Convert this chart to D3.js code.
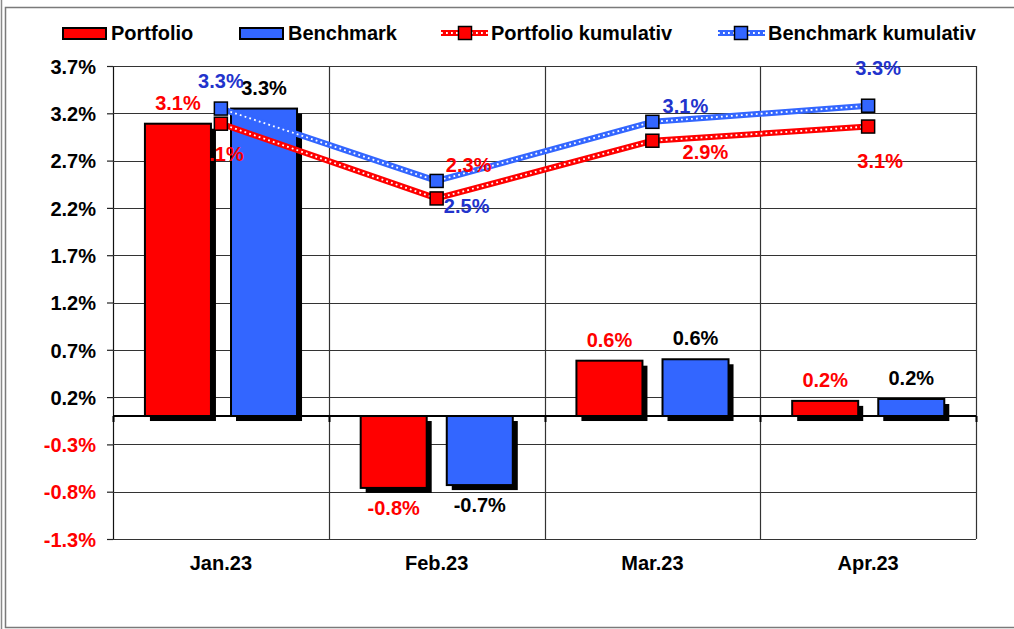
<!DOCTYPE html>
<html>
<head>
<meta charset="utf-8">
<script src="https://cdn.jsdelivr.net/npm/d3@7"></script>
<style>
  html, body { margin: 0; padding: 0; background: #fff; }
  svg { display: block; font-family: Arial, "Liberation Sans", sans-serif; }
</style>
</head>
<body>
<svg id="chart" width="1014" height="629"></svg>
<script>
// ---- data ----
const categories = ["Jan.23", "Feb.23", "Mar.23", "Apr.23"];
const portfolio = [3.09, -0.76, 0.585, 0.16];
const benchmark = [3.25, -0.73, 0.60, 0.18];
const portfolioCum = [3.09, 2.30, 2.91, 3.06];
const benchmarkCum = [3.25, 2.485, 3.11, 3.28];
const yTicks = [-1.3, -0.8, -0.3, 0.2, 0.7, 1.2, 1.7, 2.2, 2.7, 3.2, 3.7];
const seriesNames = ["Portfolio", "Benchmark", "Portfolio kumulativ", "Benchmark kumulativ"];

// ---- styling / layout config ----
const RED = "#ff0000", BLUE = "#3366ff", DARKBLUE = "#2233cc";
const FONT = "bold 20px Arial, 'Liberation Sans', sans-serif";
const pLeft = 113, pRight = 976, pTop = 66, pBottom = 539;
// manual label offsets (Excel-style hand-placed labels) relative to marker
const pCumOff = [[0, 37], [32, -26], [53, 18], [12, 41]];
const bCumOff = [[0, -21], [30, 32], [33, -9], [10, -31]];

const svg = d3.select("#chart");
const fmt = v => v.toFixed(1) + "%";

// outer frame
svg.append("line").attr("x1", 1.5).attr("x2", 1.5).attr("y1", 0).attr("y2", 629)
  .attr("stroke", "#8a8a8a").attr("stroke-width", 1.5);
svg.append("rect").attr("x", 5.5).attr("y", 7.5).attr("width", 1020).attr("height", 620)
  .attr("fill", "none").attr("stroke", "#7a7a7a").attr("stroke-width", 1.5);

const x = d3.scaleBand().domain(categories).range([pLeft, pRight]);
const bw = x.bandwidth();
const x1 = d3.scaleBand().domain(["p", "b"]).range([bw * 0.148, bw * 0.853]).paddingInner(0.233);
const y = d3.scaleLinear().domain([-1.3, 3.7]).range([pBottom, pTop]);

// y ticks
const yAxis = d3.axisLeft(y).tickValues(yTicks).tickSize(6).tickFormat(d => fmt(d));
const gy = svg.append("g").attr("transform", `translate(${pLeft},0)`).call(yAxis);
gy.select(".domain").attr("stroke", "#111").attr("stroke-width", 1.2);
gy.selectAll(".tick line").attr("stroke", "#222").attr("stroke-width", 1.2);
gy.selectAll(".tick text")
  .style("font", FONT)
  .attr("x", -17)
  .attr("dy", "0.36em")
  .attr("fill", d => d < 0 ? RED : "#000");

// horizontal grid
svg.append("g").selectAll("line").data(yTicks).join("line")
  .attr("x1", pLeft).attr("x2", pRight)
  .attr("y1", d => Math.round(y(d)) + 0.5).attr("y2", d => Math.round(y(d)) + 0.5)
  .attr("stroke", "#333").attr("stroke-width", 1.2);

// vertical category separators + right border
const seps = categories.slice(1).map(c => x(c)).concat([pRight]);
svg.append("g").selectAll("line").data(seps).join("line")
  .attr("x1", d => Math.round(d) + 0.5).attr("x2", d => Math.round(d) + 0.5)
  .attr("y1", pTop).attr("y2", pBottom)
  .attr("stroke", "#333").attr("stroke-width", 1.2);

// bars
const barData = [];
categories.forEach((c, i) => {
  barData.push({ c, key: "p", v: portfolio[i], fill: RED, lab: RED });
  barData.push({ c, key: "b", v: benchmark[i], fill: BLUE, lab: "#000" });
});
const gBars = svg.append("g");
gBars.selectAll("rect.shadow").data(barData).join("rect").attr("class", "shadow")
  .attr("x", d => x(d.c) + x1(d.key) + 5)
  .attr("y", d => Math.min(y(d.v), y(0)) + 5)
  .attr("width", x1.bandwidth())
  .attr("height", d => Math.abs(y(d.v) - y(0)))
  .attr("fill", "#000");
gBars.selectAll("rect.bar").data(barData).join("rect").attr("class", "bar")
  .attr("x", d => x(d.c) + x1(d.key))
  .attr("y", d => Math.min(y(d.v), y(0)))
  .attr("width", x1.bandwidth())
  .attr("height", d => Math.abs(y(d.v) - y(0)))
  .attr("fill", d => d.fill).attr("stroke", "#000").attr("stroke-width", 2);

// zero axis line with ticks
const y0 = y(0);
svg.append("line").attr("x1", pLeft).attr("x2", pRight).attr("y1", y0).attr("y2", y0)
  .attr("stroke", "#000").attr("stroke-width", 2);
svg.append("g").selectAll("line").data([pLeft].concat(seps)).join("line")
  .attr("x1", d => Math.round(d) + 0.5).attr("x2", d => Math.round(d) + 0.5)
  .attr("y1", y0).attr("y2", y0 + 6).attr("stroke", "#000").attr("stroke-width", 2);

// bar labels
svg.append("g").selectAll("text").data(barData).join("text")
  .attr("x", d => x(d.c) + x1(d.key) + x1.bandwidth() / 2)
  .attr("y", d => d.v >= 0 ? y(d.v) - 14 : y(d.v) + 27)
  .attr("text-anchor", "middle").style("font", FONT)
  .attr("fill", d => d.lab).text(d => fmt(d.v));

// category labels
svg.append("g").selectAll("text").data(categories).join("text")
  .attr("x", d => x(d) + bw / 2).attr("y", 570)
  .attr("text-anchor", "middle").style("font", FONT).attr("fill", "#000").text(d => d);

// cumulative lines
function dottedLine(g, pts, color) {
  const line = d3.line().x(d => d[0]).y(d => d[1]);
  g.append("path").attr("d", line(pts)).attr("fill", "none")
    .attr("stroke", color).attr("stroke-width", 6).attr("stroke-linejoin", "round");
  g.append("path").attr("d", line(pts)).attr("fill", "none")
    .attr("stroke", "#fff").attr("stroke-width", 1.8).attr("stroke-dasharray", "1.8,3.2");
}
function marker(g, cx, cy, color) {
  g.append("rect").attr("x", cx - 6.5).attr("y", cy - 6.5).attr("width", 13).attr("height", 13)
    .attr("fill", color).attr("stroke", "#000").attr("stroke-width", 1.5);
}
const gLines = svg.append("g");
const cumSeries = [
  { vals: benchmarkCum, color: BLUE, lab: DARKBLUE, off: bCumOff },
  { vals: portfolioCum, color: RED, lab: RED, off: pCumOff }
];
cumSeries.forEach(s => {
  const pts = s.vals.map((v, i) => [x(categories[i]) + bw / 2, y(v)]);
  dottedLine(gLines, pts, s.color);
});
cumSeries.forEach(s => {
  s.vals.forEach((v, i) => marker(gLines, x(categories[i]) + bw / 2, y(v), s.color));
});
cumSeries.forEach(s => {
  gLines.append("g").selectAll("text").data(s.vals).join("text")
    .attr("x", (v, i) => x(categories[i]) + bw / 2 + s.off[i][0])
    .attr("y", (v, i) => y(v) + s.off[i][1])
    .attr("text-anchor", "middle").style("font", FONT).attr("fill", s.lab)
    .text(v => fmt(v));
});

// legend
const leg = svg.append("g");
const legY = 33;
leg.append("rect").attr("x", 63).attr("y", 28).attr("width", 43).attr("height", 11)
  .attr("fill", RED).attr("stroke", "#000").attr("stroke-width", 2);
leg.append("text").attr("x", 111).attr("y", 40).style("font", FONT).text(seriesNames[0]);
leg.append("rect").attr("x", 240).attr("y", 28).attr("width", 43).attr("height", 11)
  .attr("fill", BLUE).attr("stroke", "#000").attr("stroke-width", 2);
leg.append("text").attr("x", 288).attr("y", 40).style("font", FONT).text(seriesNames[1]);
dottedLine(leg, [[441, legY], [488, legY]], RED);
marker(leg, 465, legY, RED);
leg.append("text").attr("x", 491).attr("y", 40).style("font", FONT).text(seriesNames[2]);
dottedLine(leg, [[718, legY], [765, legY]], BLUE);
marker(leg, 741, legY, BLUE);
leg.append("text").attr("x", 768).attr("y", 40).style("font", FONT).text(seriesNames[3]);
</script>
</body>
</html>
